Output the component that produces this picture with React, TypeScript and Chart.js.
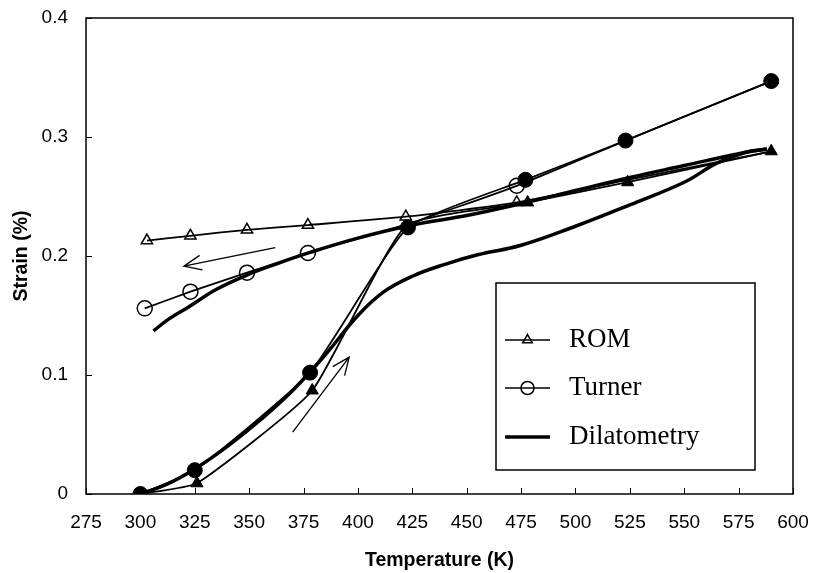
import React, { useEffect, useRef } from "react";
import { Chart, registerables } from "chart.js";

Chart.register(...registerables);

// ---- axis ticks ----
const xTicks = [275, 300, 325, 350, 375, 400, 425, 450, 475, 500, 525, 550, 575, 600];
const yTicks = [0, 0.1, 0.2, 0.3, 0.4];
const yTickLabels = ["0", "0.1", "0.2", "0.3", "0.4"];

// ---- ROM (triangles) ----
const romHeatT = [300, 326, 379, 422, 478, 524, 590];
const romHeatS = [0, 0.009, 0.087, 0.225, 0.245, 0.262, 0.288];
const romCoolT = [590, 524, 473, 422, 377, 349, 323, 303];
const romCoolS = [0.288, 0.264, 0.245, 0.233, 0.226, 0.222, 0.217, 0.213];
const romCoolMarker = [false, false, true, true, true, true, true, true];

// ---- Turner (circles) ----
const turnerHeatT = [300, 325, 378, 423, 477, 523, 590];
const turnerHeatS = [0, 0.02, 0.102, 0.224, 0.264, 0.297, 0.347];
const turnerCoolT = [590, 523, 473, 423, 377, 349, 323, 302];
const turnerCoolS = [0.347, 0.297, 0.259, 0.227, 0.2025, 0.186, 0.17, 0.156];
const turnerCoolMarker = [false, false, true, false, true, true, true, true];

// ---- Dilatometry (thick line) ----
const dilHeatT = [300, 312, 325, 340, 355, 370, 385, 400, 412, 425, 440, 455, 475, 500, 525, 550, 565, 578, 588];
const dilHeatS = [0, 0.008, 0.021, 0.04, 0.062, 0.087, 0.117, 0.15, 0.17, 0.183, 0.193, 0.201, 0.209, 0.225, 0.243, 0.262, 0.278, 0.287, 0.29];
const dilCoolT = [588, 575, 550, 525, 500, 475, 450, 425, 400, 378, 362, 349, 335, 322, 313, 306];
const dilCoolS = [0.29, 0.286, 0.276, 0.266, 0.255, 0.244, 0.234, 0.226, 0.215, 0.203, 0.193, 0.184, 0.172, 0.157, 0.147, 0.137];

// ---- annotation arrows [fromT, fromS, toT, toS] ----
const coolArrow = [362, 0.207, 320, 0.1915];
const heatArrow = [370, 0.052, 396, 0.115];

// ---- legend ----
const legendLabels = ["ROM", "Turner", "Dilatometry"];

const pts = (xs: number[], ys: number[]) => xs.map((x, i) => ({ x, y: ys[i] }));

const framePlugin = {
  id: "frame",
  afterDraw(chart: any) {
    const { ctx, chartArea: ca, scales } = chart;
    const xs = scales.x;
    const ys = scales.y;
    ctx.save();
    ctx.strokeStyle = "#000";
    ctx.lineWidth = 1.5;
    ctx.strokeRect(ca.left, ca.top, ca.right - ca.left, ca.bottom - ca.top);
    // inside tick marks
    ctx.lineWidth = 1;
    ctx.beginPath();
    xTicks.forEach((v) => {
      const px = Math.round(xs.getPixelForValue(v)) + 0.5;
      ctx.moveTo(px, ca.bottom);
      ctx.lineTo(px, ca.bottom - 6);
    });
    yTicks.forEach((v) => {
      const py = Math.round(ys.getPixelForValue(v)) + 0.5;
      ctx.moveTo(ca.left, py);
      ctx.lineTo(ca.left + 6, py);
    });
    ctx.stroke();

    // arrows
    const drawArrow = (a: number[]) => {
      const x1 = xs.getPixelForValue(a[0]);
      const y1 = ys.getPixelForValue(a[1]);
      const x2 = xs.getPixelForValue(a[2]);
      const y2 = ys.getPixelForValue(a[3]);
      const ang = Math.atan2(y1 - y2, x1 - x2);
      const hl = 19;
      const spread = 0.4;
      ctx.lineWidth = 1.3;
      ctx.beginPath();
      ctx.moveTo(x1, y1);
      ctx.lineTo(x2, y2);
      ctx.moveTo(x2 + hl * Math.cos(ang - spread), y2 + hl * Math.sin(ang - spread));
      ctx.lineTo(x2, y2);
      ctx.lineTo(x2 + hl * Math.cos(ang + spread), y2 + hl * Math.sin(ang + spread));
      ctx.stroke();
    };
    drawArrow(coolArrow);
    drawArrow(heatArrow);

    // legend box
    const L = 496, T = 283, R = 755, B = 470;
    ctx.fillStyle = "#fff";
    ctx.fillRect(L, T, R - L, B - T);
    ctx.lineWidth = 1.5;
    ctx.strokeStyle = "#000";
    ctx.strokeRect(L, T, R - L, B - T);
    const rowY = [340, 388, 437];
    const sx1 = 505, sx2 = 550, mx = 527.5;
    // ROM
    ctx.lineWidth = 1.5;
    ctx.beginPath();
    ctx.moveTo(sx1, rowY[0]);
    ctx.lineTo(sx2, rowY[0]);
    ctx.stroke();
    ctx.beginPath();
    const r = 5.5;
    ctx.moveTo(mx, rowY[0] - r);
    ctx.lineTo(mx + r * 0.866, rowY[0] + r * 0.5);
    ctx.lineTo(mx - r * 0.866, rowY[0] + r * 0.5);
    ctx.closePath();
    ctx.stroke();
    // Turner
    ctx.beginPath();
    ctx.moveTo(sx1, rowY[1]);
    ctx.lineTo(sx2, rowY[1]);
    ctx.stroke();
    ctx.beginPath();
    ctx.arc(mx, rowY[1], 6.5, 0, Math.PI * 2);
    ctx.stroke();
    // Dilatometry
    ctx.lineWidth = 3.5;
    ctx.beginPath();
    ctx.moveTo(sx1, rowY[2]);
    ctx.lineTo(sx2, rowY[2]);
    ctx.stroke();
    ctx.fillStyle = "#000";
    ctx.font = '27px "Liberation Serif", "Times New Roman", serif';
    ctx.textBaseline = "middle";
    ctx.textAlign = "left";
    legendLabels.forEach((t, i) => ctx.fillText(t, 569, rowY[i]));
    ctx.restore();
  },
};

export default function App() {
  const ref = useRef<HTMLCanvasElement>(null);
  useEffect(() => {
    if (!ref.current) return;
    const thin = 1.8;
    const chart = new Chart(ref.current, {
      type: "line",
      data: {
        datasets: [
          {
            label: "Turner heating",
            data: pts(turnerHeatT, turnerHeatS),
            borderColor: "#000",
            borderWidth: thin,
            pointStyle: "circle",
            pointRadius: 7.5,
            pointBackgroundColor: "#000",
            pointBorderColor: "#000",
            pointBorderWidth: 1,
            tension: 0.15,
            fill: false,
          },
          {
            label: "ROM heating",
            data: pts(romHeatT, romHeatS),
            borderColor: "#000",
            borderWidth: thin,
            pointStyle: "triangle",
            pointRadius: 7,
            pointBackgroundColor: "#000",
            pointBorderColor: "#000",
            pointBorderWidth: 1,
            tension: 0.15,
            fill: false,
          },
          {
            label: "Turner cooling",
            data: pts(turnerCoolT, turnerCoolS),
            borderColor: "#000",
            borderWidth: thin,
            pointStyle: "circle",
            pointRadius: turnerCoolMarker.map((m) => (m ? 7.5 : 0)),
            pointBackgroundColor: "rgba(0,0,0,0)",
            pointBorderColor: "#000",
            pointBorderWidth: 1.5,
            tension: 0.2,
            fill: false,
          },
          {
            label: "ROM cooling",
            data: pts(romCoolT, romCoolS),
            borderColor: "#000",
            borderWidth: thin,
            pointStyle: "triangle",
            pointRadius: romCoolMarker.map((m) => (m ? 6.5 : 0)),
            pointBackgroundColor: "rgba(0,0,0,0)",
            pointBorderColor: "#000",
            pointBorderWidth: 1.5,
            tension: 0.2,
            fill: false,
          },
          {
            label: "Dilatometry heating",
            data: pts(dilHeatT, dilHeatS),
            borderColor: "#000",
            borderWidth: 3.5,
            pointRadius: 0,
            tension: 0.4,
            fill: false,
          },
          {
            label: "Dilatometry cooling",
            data: pts(dilCoolT, dilCoolS),
            borderColor: "#000",
            borderWidth: 3.5,
            pointRadius: 0,
            tension: 0.4,
            fill: false,
          },
        ],
      },
      options: {
        animation: false,
        responsive: true,
        maintainAspectRatio: false,
        layout: { padding: { top: 18, right: 20, left: 0, bottom: 0 } },
        plugins: { legend: { display: false }, tooltip: { enabled: false } },
        scales: {
          x: {
            type: "linear",
            min: 275,
            max: 600,
            afterBuildTicks: (s: any) => {
              s.ticks = xTicks.map((v) => ({ value: v }));
            },
            afterFit: (s: any) => {
              s.height = 79;
              s.paddingLeft = 0;
              s.paddingRight = 0;
            },
            ticks: {
              autoSkip: false,
              maxRotation: 0,
              padding: 17,
              color: "#000",
              font: { family: '"Liberation Sans", Arial, sans-serif', size: 19 },
              callback: (v: any) => String(v),
            },
            grid: { display: false, drawTicks: false },
            border: { display: false },
            title: {
              display: true,
              text: "Temperature (K)",
              color: "#000",
              font: { family: '"Liberation Sans", Arial, sans-serif', size: 19.5, weight: "bold" },
              padding: { top: 0, bottom: 1 },
            },
          },
          y: {
            type: "linear",
            min: 0,
            max: 0.4,
            afterBuildTicks: (s: any) => {
              s.ticks = yTicks.map((v) => ({ value: v }));
            },
            afterFit: (s: any) => {
              s.width = 86;
              s.paddingTop = 0;
              s.paddingBottom = 0;
            },
            ticks: {
              padding: 18,
              color: "#000",
              font: { family: '"Liberation Sans", Arial, sans-serif', size: 19 },
              callback: (v: any) => {
                const i = yTicks.findIndex((t) => Math.abs(t - Number(v)) < 1e-9);
                return i >= 0 ? yTickLabels[i] : "";
              },
            },
            grid: { display: false, drawTicks: false },
            border: { display: false },
            title: {
              display: true,
              text: "Strain (%)",
              color: "#000",
              font: { family: '"Liberation Sans", Arial, sans-serif', size: 19.5, weight: "bold" },
              padding: { top: 10, bottom: 0 },
            },
          },
        },
      } as any,
      plugins: [framePlugin],
    });
    return () => chart.destroy();
  }, []);

  return (
    <div style={{ position: "fixed", left: 0, top: 0, width: 813, height: 573, background: "#fff" }}>
      <canvas ref={ref} style={{ display: "block" }} />
    </div>
  );
}
